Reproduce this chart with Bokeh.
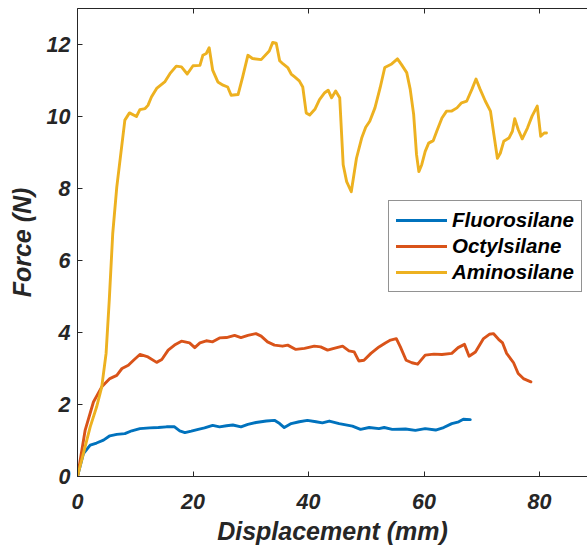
from bokeh.plotting import figure
from bokeh.models import LinearAxis, FixedTicker, Range1d, Legend
from bokeh.embed import file_html
from bokeh.resources import INLINE

# ---- data ----
fluoro_x = [0, 1.03, 2.2, 3.3, 4.5, 5.6, 6.8, 8.2, 9.4, 10.8, 12.5, 14.0, 15.4, 16.8, 17.7, 18.6,
            19.7, 20.9, 22.0, 23.4, 24.6, 25.8, 26.9, 28.3, 29.5, 30.9, 32.7, 34.1, 35.0, 35.8,
            37.0, 38.4, 39.8, 41.3, 42.4, 43.6, 45.3, 47.6, 49.0, 50.5, 52.2, 53.1, 54.5, 56.8,
            58.5, 60.2, 62.0, 63.4, 64.8, 66.0, 66.8, 68.0]
fluoro_y = [0, 0.64, 0.87, 0.93, 1.01, 1.13, 1.17, 1.19, 1.27, 1.33, 1.35, 1.36, 1.38, 1.38, 1.27, 1.22,
            1.26, 1.31, 1.35, 1.42, 1.38, 1.41, 1.43, 1.38, 1.45, 1.50, 1.54, 1.56, 1.47, 1.36,
            1.47, 1.52, 1.56, 1.52, 1.49, 1.54, 1.47, 1.40, 1.31, 1.36, 1.33, 1.36, 1.31, 1.32,
            1.28, 1.33, 1.29, 1.36, 1.47, 1.52, 1.59, 1.58]

octyl_x = [0, 1.33, 2.76, 4.2, 5.6, 6.8, 7.7, 8.8, 9.7, 10.8, 12.2, 13.7, 14.6, 15.7, 16.8, 18.0,
           19.4, 20.3, 21.2, 22.3, 23.4, 24.6, 25.8, 27.2, 28.3, 29.5, 30.9, 31.8, 32.9, 34.1,
           35.5, 36.4, 37.8, 39.3, 41.0, 42.1, 43.3, 44.4, 45.9, 47.0, 47.9, 48.7, 49.6, 50.8,
           52.2, 53.3, 54.2, 55.2, 55.9, 56.9, 57.9, 58.9, 60.2, 61.7, 63.1, 64.8, 65.9, 67.0,
           67.8, 68.9, 70.3, 71.3, 72.0, 72.9, 73.6, 74.3, 75.5, 76.3, 77.2, 78.5]
octyl_y = [0, 1.29, 2.07, 2.49, 2.72, 2.81, 3.00, 3.09, 3.23, 3.39, 3.32, 3.17, 3.25, 3.51, 3.65, 3.76,
           3.71, 3.58, 3.71, 3.77, 3.74, 3.85, 3.86, 3.92, 3.86, 3.92, 3.97, 3.90, 3.74, 3.65,
           3.62, 3.65, 3.53, 3.56, 3.62, 3.60, 3.51, 3.56, 3.62, 3.49, 3.46, 3.21, 3.23, 3.42,
           3.60, 3.71, 3.79, 3.83, 3.60, 3.23, 3.16, 3.12, 3.37, 3.40, 3.39, 3.42, 3.58, 3.67,
           3.34, 3.46, 3.83, 3.95, 3.97, 3.81, 3.71, 3.42, 3.16, 2.86, 2.72, 2.63]

amino_x = [0, 2.2, 3.3, 4.2, 4.95, 5.5, 6.1, 6.8, 7.5, 8.2, 9.0, 10.2, 10.8, 11.7, 12.2, 12.8, 13.7,
           15.1, 16.0, 17.1, 18.0, 19.0, 20.0, 21.2, 21.7, 22.3, 22.8, 23.4, 24.3, 25.2, 26.0,
           26.6, 27.8, 28.6, 29.5, 30.3, 31.8, 33.2, 33.8, 34.4, 35.0, 35.6, 36.4, 37.0, 37.6,
           38.4, 39.0, 39.6, 40.2, 41.1, 41.9, 42.8, 43.4, 44.0, 44.7, 45.4, 46.0, 46.6, 47.4,
           48.3, 49.2, 49.9, 50.6, 51.5, 52.4, 53.2, 54.4, 55.4, 56.1, 57.0, 57.6, 58.2, 58.7,
           59.1, 59.6, 60.2, 60.8, 61.6, 62.2, 63.1, 63.9, 64.8, 65.7, 66.5, 67.4, 68.3, 69.0,
           69.7, 70.6, 71.5, 72.1, 72.7, 73.2, 73.8, 74.7, 75.3, 75.7, 76.3, 77.0, 77.9, 78.7,
           79.6, 80.2, 80.8, 81.2]
amino_y = [0, 1.38, 1.93, 2.49, 3.42, 4.90, 6.75, 8.04, 8.97, 9.90, 10.10, 10.00, 10.19, 10.22, 10.31,
           10.54, 10.78, 10.96, 11.19, 11.40, 11.38, 11.18, 11.41, 11.42, 11.70, 11.75, 11.91,
           11.29, 10.96, 10.87, 10.82, 10.59, 10.61, 11.10, 11.70, 11.61, 11.58, 11.82, 12.06,
           12.04, 11.55, 11.46, 11.36, 11.18, 11.10, 10.99, 10.82, 10.10, 10.04, 10.20, 10.47,
           10.66, 10.73, 10.52, 10.71, 10.52, 8.66, 8.19, 7.91, 8.84, 9.40, 9.70, 9.87, 10.24,
           10.80, 11.36, 11.46, 11.60, 11.44, 11.22, 10.76, 10.06, 8.94, 8.47, 8.66, 9.03, 9.26,
           9.33, 9.59, 9.96, 10.15, 10.15, 10.24, 10.38, 10.43, 10.76, 11.04, 10.76, 10.43,
           10.15, 9.49, 8.84, 8.98, 9.31, 9.40, 9.59, 9.94, 9.64, 9.38, 9.68, 10.01, 10.29,
           9.45, 9.54, 9.54]

series_names = ["Fluorosilane", "Octylsilane", "Aminosilane"]
series_colors = ["#0072BD", "#D95319", "#EDB120"]
x_ticks = [0, 20, 40, 60, 80]
y_ticks = [0, 2, 4, 6, 8, 10, 12]

FONT = "Liberation Sans"
AX = "#262626"

p = figure(width=587, height=550, output_backend="svg", toolbar_location=None,
           x_range=Range1d(0, 88.3), y_range=Range1d(0, 13),
           min_border_left=77, min_border_right=0, min_border_top=8, min_border_bottom=74)
p.background_fill_color = "white"
p.border_fill_color = "white"
p.outline_line_color = None
p.xgrid.visible = False
p.ygrid.visible = False

renderers = []
for xs, ys, c in zip([fluoro_x, octyl_x, amino_x], [fluoro_y, octyl_y, amino_y], series_colors):
    r = p.line(xs, ys, line_color=c, line_width=2.9, line_join="round", line_cap="round")
    renderers.append(r)

for ax in (p.xaxis[0], p.yaxis[0]):
    ax.axis_line_color = AX
    ax.major_tick_line_color = AX
    ax.major_tick_in = 5
    ax.major_tick_out = 0
    ax.minor_tick_line_color = None
    ax.major_label_text_font = FONT
    ax.major_label_text_font_style = "bold italic"
    ax.major_label_text_font_size = "21.5px"
    ax.major_label_text_color = AX
    ax.axis_label_text_font = FONT
    ax.axis_label_text_font_style = "bold italic"
    ax.axis_label_text_font_size = "25px"
    ax.axis_label_text_color = AX

p.xaxis[0].ticker = FixedTicker(ticks=x_ticks)
p.yaxis[0].ticker = FixedTicker(ticks=y_ticks)
p.xaxis[0].axis_label = "Displacement (mm)"
p.yaxis[0].axis_label = "Force (N)"
p.xaxis[0].major_label_standoff = 17
p.xaxis[0].axis_label_standoff = 5
p.yaxis[0].major_label_standoff = 7
p.yaxis[0].axis_label_standoff = 8

# top box edge with inward tick marks (no labels)
top = LinearAxis(ticker=FixedTicker(ticks=x_ticks))
top.axis_line_color = AX
top.major_tick_line_color = AX
top.major_tick_in = 5
top.major_tick_out = 0
top.minor_tick_line_color = None
top.major_label_text_font_size = "0px"
top.major_label_text_color = None
top.major_label_standoff = 0
p.add_layout(top, "above")

legend = Legend(items=[(n, [r]) for n, r in zip(series_names, renderers)],
                location=(311, 184))
legend.label_text_font = FONT
legend.label_text_font_style = "bold italic"
legend.label_text_font_size = "20.5px"
legend.label_text_color = "black"
legend.glyph_width = 51
legend.glyph_height = 20
legend.label_standoff = 5
legend.padding = 7
legend.spacing = 2
legend.margin = 0
legend.border_line_color = AX
legend.border_line_width = 1
legend.background_fill_color = "white"
legend.background_fill_alpha = 1
p.add_layout(legend, "center")

open("out.html", "w").write(file_html(p, INLINE))
